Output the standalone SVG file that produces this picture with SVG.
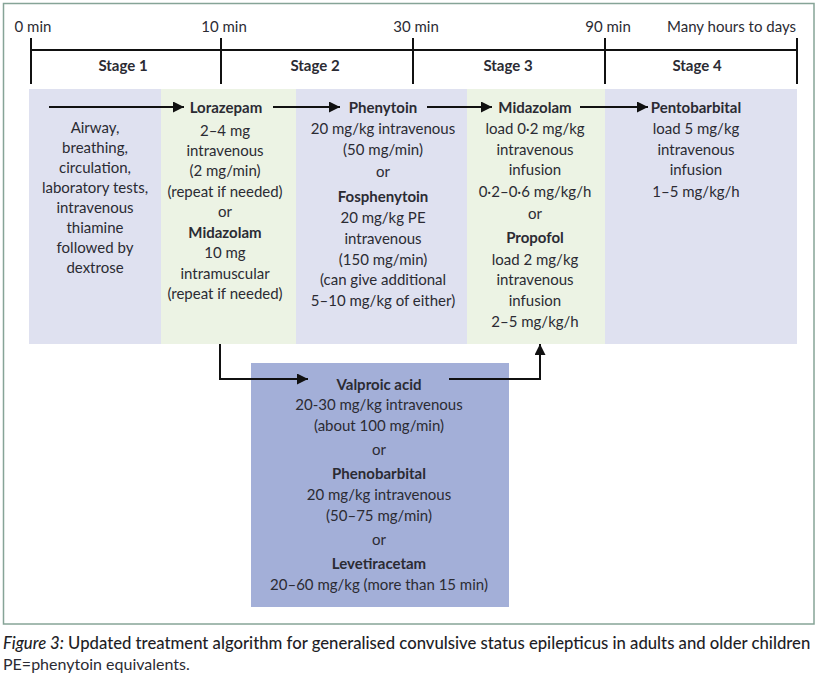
<svg xmlns="http://www.w3.org/2000/svg" width="818" height="683" viewBox="0 0 818 683">
<style>
text{font-family:Lato,"Liberation Sans",sans-serif;font-size:15px;fill:#2b2b33}
.c{text-anchor:middle}
.b{font-weight:700}
.tl{stroke:#111;stroke-width:2;fill:none}
.ar{stroke:#111;stroke-width:2;fill:none}
.lav{fill:#dfe1f0}
.grn{fill:#ecf3e4}
.cap{font-size:16.7px;font-weight:500;fill:#1e1e26}
</style>
<defs>
<marker id="ah" viewBox="0 0 10 10" refX="10" refY="5" markerWidth="11" markerHeight="11" markerUnits="userSpaceOnUse" orient="auto">
<path d="M0,0 L10,5 L0,10 Z" fill="#111"/>
</marker>
</defs>
<rect x="0" y="0" width="818" height="683" fill="#fff"/>
<rect x="3.5" y="3.5" width="810.5" height="620.5" fill="none" stroke="#86a497" stroke-width="1.5"/>

<g id="timeline">
<line class="tl" x1="31" y1="50" x2="797" y2="50"/>
<line class="tl" x1="31" y1="38" x2="31" y2="84"/>
<line class="tl" x1="221" y1="38" x2="221" y2="84"/>
<line class="tl" x1="413" y1="38" x2="413" y2="84"/>
<line class="tl" x1="605" y1="38" x2="605" y2="84"/>
<line class="tl" x1="797" y1="38" x2="797" y2="84"/>
<text class="c" x="33" y="32">0 min</text>
<text class="c" x="224" y="32">10 min</text>
<text class="c" x="416" y="32">30 min</text>
<text class="c" x="608" y="32">90 min</text>
<text x="796" y="32" text-anchor="end">Many hours to days</text>
<text class="c b" x="123" y="71">Stage 1</text>
<text class="c b" x="315" y="71">Stage 2</text>
<text class="c b" x="508" y="71">Stage 3</text>
<text class="c b" x="697" y="71">Stage 4</text>
</g>

<g id="stage1">
<rect class="lav" x="29" y="89" width="132" height="255"/>
<text class="c" x="95" y="133">Airway,</text>
<text class="c" x="95" y="153">breathing,</text>
<text class="c" x="95" y="173">circulation,</text>
<text class="c" x="95" y="193">laboratory tests,</text>
<text class="c" x="95" y="213">intravenous</text>
<text class="c" x="95" y="233">thiamine</text>
<text class="c" x="95" y="253">followed by</text>
<text class="c" x="95" y="273">dextrose</text>
</g>

<g id="stage2">
<rect class="grn" x="161" y="89" width="135" height="255"/>
<text class="c b" x="226" y="113">Lorazepam</text>
<text class="c" x="225" y="136">2–4 mg</text>
<text class="c" x="225" y="156">intravenous</text>
<text class="c" x="225" y="176">(2 mg/min)</text>
<text class="c" x="225" y="197">(repeat if needed)</text>
<text class="c" x="225" y="217">or</text>
<text class="c b" x="225" y="238">Midazolam</text>
<text class="c" x="225" y="258">10 mg</text>
<text class="c" x="225" y="279">intramuscular</text>
<text class="c" x="225" y="299">(repeat if needed)</text>
</g>

<g id="stage2b">
<rect class="lav" x="296" y="89" width="171" height="255"/>
<text class="c b" x="383" y="113">Phenytoin</text>
<text class="c" x="383" y="134">20 mg/kg intravenous</text>
<text class="c" x="383" y="155">(50 mg/min)</text>
<text class="c" x="383" y="177">or</text>
<text class="c b" x="383" y="202">Fosphenytoin</text>
<text class="c" x="383" y="223">20 mg/kg PE</text>
<text class="c" x="383" y="244">intravenous</text>
<text class="c" x="383" y="265">(150 mg/min)</text>
<text class="c" x="383" y="285">(can give additional</text>
<text class="c" x="383" y="306">5–10 mg/kg of either)</text>
</g>

<g id="stage3">
<rect class="grn" x="467" y="89" width="138" height="255"/>
<text class="c b" x="535" y="113">Midazolam</text>
<text class="c" x="535" y="134">load 0·2 mg/kg</text>
<text class="c" x="535" y="155">intravenous</text>
<text class="c" x="535" y="175">infusion</text>
<text class="c" x="535" y="197">0·2–0·6 mg/kg/h</text>
<text class="c" x="535" y="219">or</text>
<text class="c b" x="535" y="243">Propofol</text>
<text class="c" x="535" y="265">load 2 mg/kg</text>
<text class="c" x="535" y="285">intravenous</text>
<text class="c" x="535" y="306">infusion</text>
<text class="c" x="535" y="327">2–5 mg/kg/h</text>
</g>

<g id="stage4">
<rect class="lav" x="605" y="89" width="192" height="255"/>
<text class="c b" x="696" y="113">Pentobarbital</text>
<text class="c" x="696" y="134">load 5 mg/kg</text>
<text class="c" x="696" y="155">intravenous</text>
<text class="c" x="696" y="175">infusion</text>
<text class="c" x="696" y="197">1–5 mg/kg/h</text>
</g>

<g id="alternatives">
<rect x="251" y="363" width="258" height="244" fill="#a3afd8"/>
<text class="c b" x="379" y="390">Valproic acid</text>
<text class="c" x="379" y="410">20-30 mg/kg intravenous</text>
<text class="c" x="379" y="431">(about 100 mg/min)</text>
<text class="c" x="379" y="455">or</text>
<text class="c b" x="379" y="479">Phenobarbital</text>
<text class="c" x="379" y="500">20 mg/kg intravenous</text>
<text class="c" x="379" y="521">(50–75 mg/min)</text>
<text class="c" x="379" y="545">or</text>
<text class="c b" x="379" y="569">Levetiracetam</text>
<text class="c" x="379" y="590">20–60 mg/kg (more than 15 min)</text>
</g>

<g id="connectors">
<line class="ar" x1="49" y1="107" x2="184" y2="107" marker-end="url(#ah)"/>
<line class="ar" x1="273" y1="107" x2="340" y2="107" marker-end="url(#ah)"/>
<line class="ar" x1="427" y1="107" x2="492" y2="107" marker-end="url(#ah)"/>
<line class="ar" x1="580" y1="107" x2="648" y2="107" marker-end="url(#ah)"/>
<path class="ar" d="M220,344 V379 H308" marker-end="url(#ah)"/>
<path class="ar" d="M449,379 H540 V344" marker-end="url(#ah)"/>
</g>

<g id="caption">
<text class="cap" x="3" y="649"><tspan font-style="italic">Figure 3:</tspan> Updated treatment algorithm for generalised convulsive status epilepticus in adults and older children</text>
<text x="3" y="670" style="font-size:16px">PE=phenytoin equivalents.</text>
</g>
</svg>
